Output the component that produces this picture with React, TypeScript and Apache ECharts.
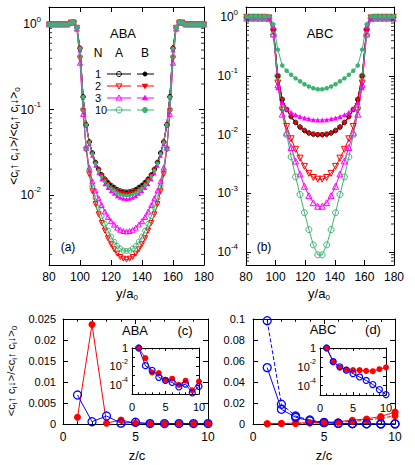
import React, { useEffect, useRef } from "react";
import * as echarts from "echarts";

const FONT = "'Liberation Sans', Arial, Helvetica, sans-serif";
const BLK = "#000000";
const RED = "#ff0000";
const MAG = "#ff00ff";
const GRN = "#3cb371";
const BLU = "#0000ff";

// ---------- Panel (a): ABA, y/a0 positions ----------
const yPosA = [80,82,84,86,88,90,92,94,96,98,100,102,104,106,108,110,112,114,116,118,120,122,124,126,128,130,132,134,136,138,140,142,144,146,148,150,152,154,156,158,160,162,164,166,168,170,172,174,176,178,180];
const aN1A = [1,1,1,1,1,1,1,1.05,1.06,0.912,0.525,0.141,0.0661,0.0417,0.0309,0.024,0.01995,0.01718,0.01531,0.01396,0.01288,0.01216,0.01148,0.01109,0.01084,0.01072,0.01084,0.01109,0.01148,0.01216,0.01288,0.01396,0.01531,0.01718,0.01995,0.024,0.0309,0.0417,0.0661,0.141,0.525,0.912,1.06,1.05,1,1,1,1,1,1,1];
const aN1B = [1,1,1,1,1,1,1,1.04,1.06,0.90,0.51,0.138,0.0655,0.0414,0.0307,0.0239,0.0199,0.0171,0.0152,0.0139,0.0128,0.0121,0.0114,0.0110,0.0108,0.0107,0.0108,0.0110,0.0115,0.0122,0.0129,0.0140,0.0154,0.0172,0.0200,0.0241,0.0311,0.0420,0.0665,0.145,0.54,0.92,1.06,1.05,1,1,1,1,1,1,1];
const aN2A = [1,1,1,1,1,1,1,1.05,1.05,0.912,0.398,0.0955,0.0339,0.0174,0.011,0.00776,0.00589,0.00468,0.0038,0.00309,0.00263,0.00229,0.00204,0.00186,0.00178,0.00174,0.00178,0.00186,0.00204,0.00229,0.00263,0.00309,0.0038,0.00468,0.00589,0.00776,0.011,0.0174,0.0339,0.0955,0.398,0.912,1.05,1.05,1,1,1,1,1,1,1];
const aN2B = [1,1,1,1,1,1,1,1.05,1.06,0.90,0.52,0.14,0.066,0.0415,0.0305,0.0236,0.0195,0.0167,0.0148,0.0134,0.0123,0.0116,0.0110,0.0106,0.01035,0.01024,0.01035,0.0106,0.0110,0.0116,0.0123,0.0134,0.0148,0.0167,0.0195,0.0236,0.0305,0.0415,0.066,0.14,0.52,0.90,1.06,1.05,1,1,1,1,1,1,1];
const aN3A = [1,1,1,1,1,1,1,1.05,1.05,0.891,0.355,0.0891,0.0355,0.0209,0.01445,0.01122,0.00912,0.00759,0.00638,0.0055,0.0049,0.00447,0.00412,0.00389,0.00376,0.00372,0.00376,0.00389,0.00412,0.00447,0.0049,0.0055,0.00638,0.00759,0.00912,0.01122,0.01445,0.0209,0.0355,0.0891,0.355,0.891,1.05,1.05,1,1,1,1,1,1,1];
const aN3B = [1,1,1,1,1,1,1,1.04,1.05,0.90,0.50,0.14,0.0643,0.0398,0.029,0.0221,0.018,0.0153,0.0134,0.0121,0.0111,0.01035,0.00965,0.00927,0.00902,0.00892,0.00902,0.00927,0.00965,0.01035,0.0111,0.0121,0.0134,0.0153,0.018,0.0221,0.029,0.0398,0.0643,0.14,0.50,0.90,1.05,1.04,1,1,1,1,1,1,1];
const aN10A = [1,1,1,1,1,1,1,1.05,1.05,0.912,0.417,0.1,0.0355,0.019,0.0126,0.00912,0.00708,0.00562,0.00457,0.0038,0.00324,0.00282,0.00251,0.00234,0.00221,0.00219,0.00221,0.00234,0.00251,0.00282,0.00324,0.0038,0.00457,0.00562,0.00708,0.00912,0.0126,0.019,0.0355,0.1,0.417,0.912,1.05,1.05,1,1,1,1,1,1,1];
const aN10B = [1,1,1,1,1,1,1,1.05,1.06,0.92,0.52,0.14,0.0661,0.0411,0.0302,0.0232,0.0191,0.0163,0.0144,0.0130,0.0119,0.0112,0.0105,0.0101,0.00989,0.00978,0.00989,0.0101,0.0105,0.0112,0.0119,0.0130,0.0144,0.0163,0.0191,0.0232,0.0302,0.0411,0.0661,0.14,0.52,0.92,1.06,1.05,1,1,1,1,1,1,1];

// ---------- Panel (b): ABC ----------
const yPosB = [80.5,83.5,86.5,89.5,92.5,95.5,98.5,101.5,104.5,107.5,110.5,113.5,116.5,119.5,122.5,125.5,128.5,131.5,134.5,137.5,140.5,143.5,146.5,149.5,152.5,155.5,158.5,161.5,164.5,167.5,170.5,173.5,176.5,179.5];
const bN1A = [1,1,1,1,1,0.977,0.631,0.1,0.0398,0.0269,0.0204,0.0162,0.0135,0.0118,0.0107,0.0102,0.0100,0.0100,0.0102,0.0107,0.0118,0.0135,0.0162,0.0204,0.0269,0.0398,0.1,0.631,0.977,1,1,1,1,1];
const bN1B = [1,1,1,1,1,0.98,0.62,0.098,0.0395,0.0266,0.0202,0.0161,0.0134,0.0117,0.0107,0.0102,0.0100,0.0100,0.0102,0.0107,0.0117,0.0134,0.0161,0.0202,0.0266,0.0395,0.098,0.62,0.98,1,1,1,1,1];
const bN2A = [1,1,1,1,1,0.977,0.562,0.0759,0.0263,0.0138,0.00851,0.00562,0.00398,0.00288,0.00219,0.00186,0.00174,0.00174,0.00186,0.00219,0.00288,0.00398,0.00562,0.00851,0.0138,0.0263,0.0759,0.562,0.977,1,1,1,1,1];
const bN2B = [1,1,1,1,1,0.97,0.60,0.095,0.039,0.0262,0.0198,0.0157,0.0131,0.0114,0.0104,0.0099,0.0098,0.0098,0.0099,0.0104,0.0114,0.0131,0.0157,0.0198,0.0262,0.039,0.095,0.60,0.97,1,1,1,1,1];
const bN3A = [0.97,0.97,0.97,0.97,0.97,0.955,0.525,0.0708,0.0224,0.0107,0.00603,0.00355,0.00214,0.00132,0.000912,0.000692,0.000603,0.000603,0.000692,0.000912,0.00132,0.00214,0.00355,0.00603,0.0107,0.0224,0.0708,0.525,0.955,0.97,0.97,0.97,0.97,0.97];
const bN3B = [0.98,0.98,0.98,0.98,0.98,0.977,0.708,0.063,0.0355,0.0275,0.024,0.0219,0.0204,0.0193,0.0186,0.018,0.0178,0.0178,0.018,0.0186,0.0193,0.0204,0.0219,0.024,0.0275,0.0355,0.063,0.708,0.977,0.98,0.98,0.98,0.98,0.98];
const bN10A = [1,1,1,1,1,0.955,0.501,0.1,0.0282,0.01,0.00417,0.00191,0.000955,0.000468,0.00024,0.000132,0.0000891,0.0000891,0.000132,0.00024,0.000468,0.000955,0.00191,0.00417,0.01,0.0282,0.1,0.501,0.955,1,1,1,1,1];
const bN10B = [1.03,1.03,1.03,1.03,1.03,1.05,0.759,0.282,0.151,0.123,0.105,0.0912,0.0813,0.0724,0.0661,0.0617,0.0596,0.0596,0.0617,0.0661,0.0724,0.0813,0.0912,0.105,0.123,0.151,0.282,0.759,1.05,1.03,1.03,1.03,1.03,1.03];

// ---------- Panels (c), (d): z/c ----------
const zc = [1,2,3,4,5,6,7,8,9,10];
const cRed = [0.0016,0.0237,0.0002,0.00095,0.0002,0.0001,0.0001,0.0001,0.0001,0.0001];
const cBlue = [0.0069,0.00055,0.0019,0.0002,0.0004,0.0001,0.0001,0.0001,0.0001,0.0001];
const cInsetRed = [1,0.08,0.0022,0.0019,0.00035,0.00046,0.0001,0.00028,0.000025,0.00022];
const cInsetBlue = [1,0.012,0.0037,0.00065,0.0003,0.00018,0.000058,0.00012,0.000013,0.000068];
const dBlueSolid = [0.0537,0.014,0.0064,0.0029,0.0013,0.0006,0.0003,0.0002,0.0001,0.0001];
const dBlueDashed = [0.0984,0.0188,0.0076,0.0038,0.0015,0.0007,0.0004,0.0002,0.0001,0.0001];
const dRedSolid = [0.0003,0.0005,0.0008,0.0012,0.0015,0.0022,0.0036,0.0048,0.0072,0.0113];
const dRedDashed = [0.0002,0.0004,0.0006,0.0009,0.0011,0.0016,0.0026,0.0036,0.0055,0.0078];
const dInsetRed = [1,0.035,0.0085,0.0051,0.0044,0.0044,0.0037,0.0034,0.0056,0.0085];
const dInsetBlue = [1,0.035,0.01,0.0044,0.0019,0.00083,0.00035,0.00013,0.000038,0.000011];

// minor tick values of the log axes
const minorTicksA = [0.002,0.003,0.004,0.005,0.006,0.007,0.008,0.009,0.02,0.03,0.04,0.05,0.06,0.07,0.08,0.09,0.2,0.3,0.4,0.5,0.6,0.7,0.8,0.9];
const minorTicksB = [0.00007,0.00008,0.00009,0.0002,0.0003,0.0004,0.0005,0.0006,0.0007,0.0008,0.0009,0.002,0.003,0.004,0.005,0.006,0.007,0.008,0.009,0.02,0.03,0.04,0.05,0.06,0.07,0.08,0.09,0.2,0.3,0.4,0.5,0.6,0.7,0.8,0.9];

const legendRows = ["1", "2", "3", "10"];

const lineStyleAx = { color: BLK, width: 1 };

function makeX(gi: number, min: number, max: number, interval: number, fontSize: number, margin: number, minor: number, tickLen: number) {
  const base: any = {
    gridIndex: gi, type: "value", min, max, interval,
    axisLine: { show: true, onZero: false, lineStyle: lineStyleAx },
    axisTick: { show: true, inside: true, length: tickLen, lineStyle: lineStyleAx },
    minorTick: minor ? { show: true, splitNumber: minor, length: tickLen * 0.55, lineStyle: lineStyleAx } : { show: false },
    splitLine: { show: false },
    minorSplitLine: { show: false },
  };
  return [
    { ...base, position: "bottom", axisLabel: { show: true, color: BLK, fontSize, fontFamily: FONT, margin } },
    { ...base, position: "top", axisLabel: { show: false } },
  ];
}

function makeLinY(gi: number, min: number, max: number, interval: number, fontSize: number, margin: number) {
  const base: any = {
    gridIndex: gi, type: "value", min, max, interval,
    axisLine: { show: true, onZero: false, lineStyle: lineStyleAx },
    axisTick: { show: true, inside: true, length: 5, lineStyle: lineStyleAx },
    splitLine: { show: false },
  };
  return [
    { ...base, position: "left", axisLabel: { show: true, color: BLK, fontSize, fontFamily: FONT, margin } },
    { ...base, position: "right", axisLabel: { show: false } },
  ];
}

function makeLogY(gi: number, min: number, max: number, fontSize: number, supSize: number, margin: number, evenOnly: boolean, tickLen: number) {
  const fmt = (v: number) => {
    const l = Math.log10(v);
    const e = Math.round(l);
    if (Math.abs(l - e) > 0.001) return "";
    if (evenOnly && e % 2 !== 0) return "";
    if (evenOnly && e === 0) return "1";
    return "10{sup|" + e + "}";
  };
  const base: any = {
    gridIndex: gi, type: "log", logBase: 10, min, max,
    axisLine: { show: true, onZero: false, lineStyle: lineStyleAx },
    axisTick: { show: true, inside: true, length: tickLen, lineStyle: lineStyleAx },
    splitLine: { show: false },
  };
  return [
    {
      ...base, position: "left",
      axisLabel: {
        show: true, color: BLK, fontSize, fontFamily: FONT, margin, formatter: fmt, lineHeight: fontSize + 6,
        rich: { sup: { fontSize: supSize, fontFamily: FONT, color: BLK, lineHeight: supSize + 1, verticalAlign: "top" } },
      },
    },
    { ...base, position: "right", axisLabel: { show: false } },
  ];
}

function series(gi: number, xs: number[], ys: number[], color: string, symbol: string, size: number, hollow: boolean, rotate = 0, dashed = false, bw = 1) {
  return {
    type: "line", xAxisIndex: 2 * gi, yAxisIndex: 2 * gi,
    data: xs.map((x, i) => [x, ys[i]]),
    symbol, symbolSize: size, symbolRotate: rotate, showSymbol: true, showAllSymbol: true,
    lineStyle: { color, width: 1, type: dashed ? [4, 2] : "solid" },
    itemStyle: hollow
      ? { color: "rgba(255,255,255,0)", borderColor: color, borderWidth: bw }
      : { color, borderColor: color, borderWidth: 0 },
    silent: true, z: 3,
  };
}

function minorSeries(gi: number, xEdge: number, vals: number[], offset: number) {
  return {
    type: "scatter", xAxisIndex: 2 * gi, yAxisIndex: 2 * gi,
    data: vals.map((v) => [xEdge, v]),
    symbol: "rect", symbolSize: [3, 1], symbolOffset: [offset, 0],
    itemStyle: { color: BLK }, silent: true, clip: false, z: 5,
  };
}

const txt = (x: number, y: number, text: string, fontSize: number, align = "center", extra: any = {}) => ({
  type: "text", x, y, z: 100, silent: true,
  style: {
    text, fill: BLK, fontSize, fontFamily: FONT,
    align, textAlign: align, verticalAlign: "middle", textVerticalAlign: "middle",
    ...extra,
  },
});

function legendMarker(kind: string, filled: boolean, color: string, cx: number, cy: number, r: number) {
  const style = { fill: filled ? color : "none", stroke: color, lineWidth: 1 };
  if (kind === "circle") return { type: "circle", z: 101, shape: { cx, cy, r }, style };
  if (kind === "up") return { type: "polygon", z: 101, shape: { points: [[cx, cy - r], [cx - r, cy + r * 0.7], [cx + r, cy + r * 0.7]] }, style };
  return { type: "polygon", z: 101, shape: { points: [[cx, cy + r], [cx - r, cy - r * 0.7], [cx + r, cy - r * 0.7]] }, style };
}

function buildOption() {
  const grids = [
    { left: 49, top: 7, width: 155, height: 258 },
    { left: 246, top: 7, width: 148, height: 258 },
    { left: 63, top: 319, width: 145, height: 105 },
    { left: 253, top: 319, width: 142, height: 105 },
    { left: 132, top: 348, width: 67, height: 46, show: true, backgroundColor: "#ffffff", borderWidth: 0 },
    { left: 320, top: 348, width: 66, height: 47, show: true, backgroundColor: "#ffffff", borderWidth: 0 },
  ];
  const xAxis = [
    ...makeX(0, 80, 180, 20, 12, 6, 0, 5),
    ...makeX(1, 80, 180, 20, 12, 6, 0, 5),
    ...makeX(2, 0, 10, 5, 12, 7, 5, 5),
    ...makeX(3, 0, 10, 5, 12, 7, 5, 5),
    ...makeX(4, 0, 10, 5, 11, 7, 5, 3),
    ...makeX(5, 0, 10, 5, 11, 7, 5, 3),
  ];
  const yAxis = [
    ...makeLogY(0, 0.0015, 1.6, 12, 8, 8, false, 5),
    ...makeLogY(1, 0.00006, 1.5, 12, 8, 8, false, 5),
    ...makeLinY(2, 0, 0.025, 0.005, 11, 7),
    ...makeLinY(3, 0, 0.1, 0.02, 11, 8),
    ...makeLogY(4, 0.00001, 1, 11, 7, 4, true, 3),
    ...makeLogY(5, 0.00001, 1, 11, 7, 4, true, 3),
  ];

  const sers: any[] = [
    // (a)
    series(0, yPosA, aN1A, BLK, "circle", 4.5, true),
    series(0, yPosA, aN1B, BLK, "circle", 3.5, false),
    series(0, yPosA, aN2A, RED, "triangle", 5, true, 180),
    series(0, yPosA, aN2B, RED, "triangle", 4.5, false, 180),
    series(0, yPosA, aN3A, MAG, "triangle", 5, true),
    series(0, yPosA, aN3B, MAG, "triangle", 4.5, false),
    series(0, yPosA, aN10A, GRN, "circle", 5, true),
    series(0, yPosA, aN10B, GRN, "circle", 4, false),
    // (b)
    series(1, yPosB, bN1A, BLK, "circle", 4.5, true),
    series(1, yPosB, bN1B, BLK, "circle", 4, false),
    series(1, yPosB, bN2A, RED, "triangle", 6, true, 180),
    series(1, yPosB, bN2B, RED, "triangle", 5, false, 180),
    series(1, yPosB, bN3A, MAG, "triangle", 6, true),
    series(1, yPosB, bN3B, MAG, "triangle", 5, false),
    series(1, yPosB, bN10A, GRN, "circle", 6, true),
    series(1, yPosB, bN10B, GRN, "circle", 4.5, false),
    // (c)
    series(2, zc, cRed, RED, "circle", 7, false),
    series(2, zc, cBlue, BLU, "circle", 8, true, 0, false, 1.3),
    // (d)
    series(3, zc, dRedDashed, RED, "circle", 7, false, 0, true),
    series(3, zc, dRedSolid, RED, "circle", 7, false),
    series(3, zc, dBlueDashed, BLU, "circle", 8, true, 0, true, 1.3),
    series(3, zc, dBlueSolid, BLU, "circle", 8, true, 0, false, 1.3),
    // insets
    series(4, zc, cInsetRed, RED, "circle", 6, false),
    series(4, zc, cInsetBlue, BLU, "circle", 6, true, 0, false, 1.2),
    series(5, zc, dInsetRed, RED, "circle", 6, false),
    series(5, zc, dInsetBlue, BLU, "circle", 6, true, 0, false, 1.2),
    // log minor ticks
    minorSeries(0, 80, minorTicksA, 1.5),
    minorSeries(0, 180, minorTicksA, -1.5),
    minorSeries(1, 80, minorTicksB, 1.5),
    minorSeries(1, 180, minorTicksB, -1.5),
  ];

  const subRich = { s: { fontSize: 8, fontFamily: FONT, fill: BLK, lineHeight: 8, verticalAlign: "bottom" } };
  const yName = "<c{s|i}\u2191 c{s|i}\u2193>/<c{s|i}\u2191 c{s|i}\u2193>{s|0}";

  const graphic: any[] = [
    txt(123, 33, "ABA", 13),
    txt(320, 33, "ABC", 13),
    txt(68, 247, "(a)", 12),
    txt(264, 247, "(b)", 12),
    txt(135, 330, "ABA", 13),
    txt(185, 330, "(c)", 13),
    txt(323, 329, "ABC", 13),
    txt(373, 329, "(d)", 13),
    txt(127, 293, "y/a{s|0}", 13, "center", { rich: subRich, lineHeight: 16 }),
    txt(319, 293, "y/a{s|0}", 13, "center", { rich: subRich, lineHeight: 16 }),
    txt(137, 455, "z/c", 13),
    txt(324, 455, "z/c", 13),
    { ...txt(14, 136, yName, 12, "center", { rich: subRich, lineHeight: 15 }), rotation: Math.PI / 2 },
    { ...txt(11, 371, yName, 11, "center", { rich: subRich, lineHeight: 15 }), rotation: Math.PI / 2 },
    // legend header
    txt(98, 53, "N", 12),
    txt(119, 53, "A", 12),
    txt(145, 53, "B", 12),
  ];
  const rowY = [74, 86, 98, 110];
  const rowColor = [BLK, RED, MAG, GRN];
  const kinds = ["circle", "down", "up", "circle"];
  legendRows.forEach((lab, i) => {
    const y = rowY[i];
    const c = rowColor[i];
    graphic.push(txt(95, y, lab, 11, "left", { lineHeight: 11 }));
    graphic.push({ type: "line", z: 100, shape: { x1: 107, y1: y, x2: 131, y2: y }, style: { stroke: c, lineWidth: 1 } });
    graphic.push({ type: "line", z: 100, shape: { x1: 137, y1: y, x2: 154, y2: y }, style: { stroke: c, lineWidth: 1 } });
    const rA = i === 0 ? 2.5 : 3;
    const rB = i === 0 ? 2 : 2.6;
    graphic.push(legendMarker(kinds[i], false, c, 119, y, rA));
    graphic.push(legendMarker(kinds[i], true, c, 145, y, rB));
  });

  return {
    animation: false,
    backgroundColor: "#ffffff",
    textStyle: { fontFamily: FONT },
    grid: grids,
    xAxis,
    yAxis,
    series: sers,
    graphic,
  };
}

export default function App() {
  const ref = useRef<HTMLDivElement>(null);
  useEffect(() => {
    document.body.style.margin = "0";
    const chart = echarts.init(ref.current!, null, { renderer: "svg" });
    chart.setOption(buildOption() as any);
    return () => chart.dispose();
  }, []);
  return <div ref={ref} style={{ width: 415, height: 465 }} />;
}
